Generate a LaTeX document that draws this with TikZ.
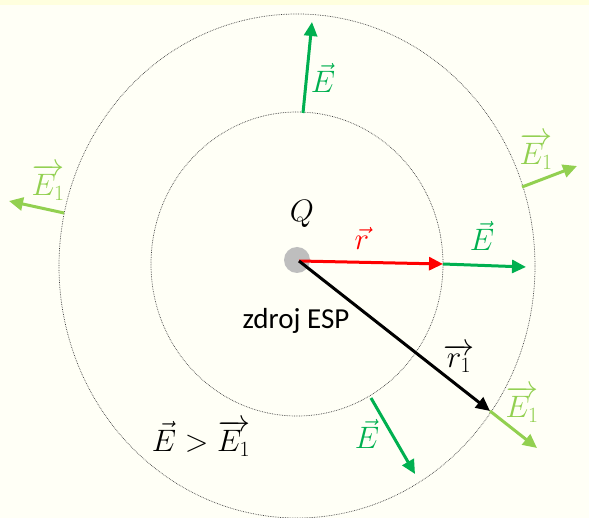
\RequirePackage{fix-cm}
\documentclass[tikz,border=0pt]{standalone}
\usepackage{fontspec}
\setmainfont{Carlito}
\usetikzlibrary{arrows.meta}
\definecolor{ivory}{RGB}{255,255,246}
\definecolor{bandyellow}{RGB}{255,255,222}
\definecolor{fieldgreen}{RGB}{0,176,80}
\definecolor{fieldlight}{RGB}{146,208,80}
\definecolor{dotgray}{RGB}{190,190,190}
\tikzset{
  vec/.style={-{Triangle[length=14pt,width=13pt]}, line width=3pt},
  lbl/.style={font=\fontsize{31}{35}\selectfont, inner sep=0pt},
  orbit/.style={densely dotted, line width=0.7pt, black!75},
}
\begin{document}
\begin{tikzpicture}[x=1pt,y=-1pt]
\fill[ivory] (0,0) rectangle (589,518);
\fill[bandyellow] (0,0) rectangle (589,5);
\useasboundingbox (0,0) rectangle (589,518);
\draw[orbit] (297,266) ellipse [x radius=238, y radius=252];
\draw[orbit] (297,264) ellipse [x radius=146, y radius=152];
\node[circle, fill=dotgray, minimum size=26pt, inner sep=0pt] (q) at (297,260) {};
\coordinate (o) at (299,261);
\coordinate (rin) at (443,264);
\coordinate (e0) at (526,267);
\coordinate (r1) at (490,411);
\coordinate (e1a) at (537,448);
\coordinate (t0) at (303,113);
\coordinate (t1) at (312,22);
\coordinate (b0) at (371,398);
\coordinate (b1) at (415,474);
\coordinate (u0) at (522,187);
\coordinate (u1) at (577,166);
\coordinate (w0) at (64,213);
\coordinate (w1) at (9,201);
\draw[vec, red] (o) -- (rin);
\draw[vec, fieldgreen] (rin) -- (e0);
\draw[vec, black] (o) -- (r1);
\draw[vec, fieldlight] (r1) -- (e1a);
\draw[vec, fieldgreen] (t0) -- (t1);
\draw[vec, fieldgreen] (b0) -- (b1);
\draw[vec, fieldlight] (u0) -- (u1);
\draw[vec, fieldlight] (w0) -- (w1);
\node[lbl] (qlab) at (302,214) {$Q$};
\node[lbl, red] (rlab) at (362,238) {$\vec{r}$};
\node[lbl, fieldgreen] (elab) at (482,236) {$\vec{E}$};
\node[lbl] (r1lab) at (459,358) {$\overrightarrow{r_1}$};
\node[lbl, font=\fontsize{29}{33}\selectfont] (src) at (296,321) {zdroj ESP};
\node[lbl, fieldgreen] (etop) at (323,78) {$\vec{E}$};
\node[lbl, fieldgreen] (ebot) at (367,434) {$\vec{E}$};
\node[lbl, fieldlight] (e1br) at (522,404) {$\overrightarrow{E_1}$};
\node[lbl, fieldlight] (e1tr) at (536,151) {$\overrightarrow{E_1}$};
\node[lbl, fieldlight] (e1l) at (48,182) {$\overrightarrow{E_1}$};
\node[lbl] (cmp) at (201,438) {$\vec{E} > \overrightarrow{E_1}$};
\end{tikzpicture}
\end{document}
